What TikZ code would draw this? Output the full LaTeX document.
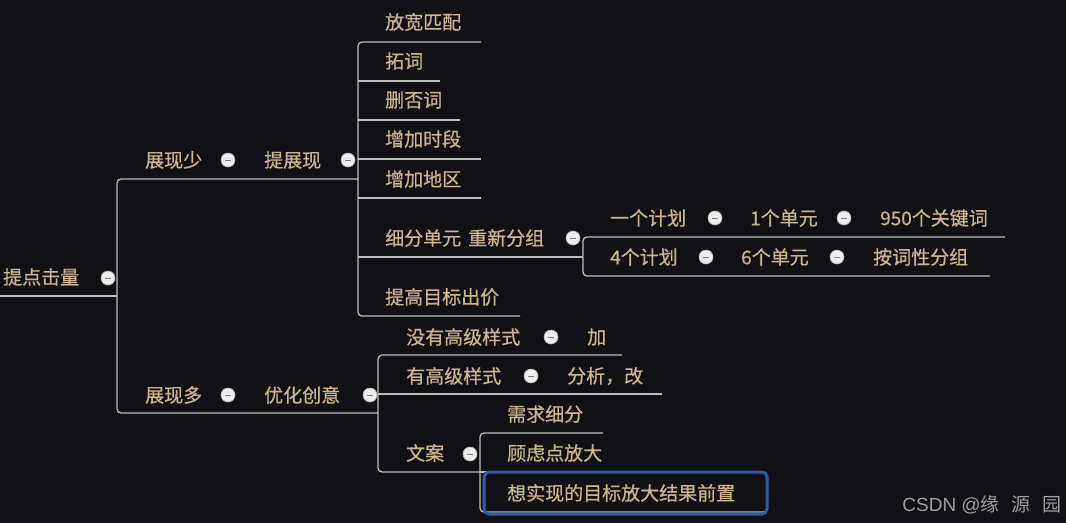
\documentclass[tikz,border=0pt]{standalone}
\usepackage{fontspec}
\newfontfamily\cjk{Noto Sans CJK SC}[FakeBold=0.6]
\newfontfamily\cjkmark{Noto Sans CJK SC}
\newfontfamily\latinmark{Liberation Sans}
\definecolor{bgdark}{HTML}{111014}
\definecolor{gold}{HTML}{CBB58E}
\definecolor{linegray}{HTML}{BDBDBD}
\definecolor{knobwhite}{HTML}{EDEDED}
\definecolor{markblue}{HTML}{2B5CAA}

\begin{document}
\begin{tikzpicture}[
    x=1pt, y=-1pt,
    topic/.style={anchor=west, inner sep=0pt, text=gold, font=\cjk\fontsize{19}{22}\selectfont},
    link/.style={draw=linegray, line width=1.3pt, rounded corners=4pt},
    knob/.style={circle, fill=knobwhite, draw=gray!60, line width=0.6pt, minimum size=14pt, inner sep=0pt,
        path picture={\draw[gray, line width=1pt] ([xshift=-3pt]path picture bounding box.center) -- ([xshift=3pt]path picture bounding box.center);}},
    highlight/.style={draw=markblue, line width=3pt, rounded corners=5pt}
]
\fill[bgdark] (0,0) rectangle (1066,523);
\useasboundingbox (0,0) rectangle (1066,523);

% root and first level
\node[topic] (root) at (3,277) {提点击量};
\node[knob] (k0) at (108,278) {};
\node[topic] (few) at (145,160) {展现少};
\node[knob] (k1) at (228,160) {};
\node[topic] (raise) at (264,160) {提展现};
\node[knob] (k2) at (348,160) {};
\node[topic] (many) at (145,395) {展现多};
\node[knob] (k3) at (228,395) {};
\node[topic] (ideas) at (264,395) {优化创意};
\node[knob] (k4) at (370,395) {};

% branches of raise
\node[topic] (match) at (385,22) {放宽匹配};
\node[topic] (words) at (385,61) {拓词};
\node[topic] (neg) at (385,100) {删否词};
\node[topic] (hours) at (385,139) {增加时段};
\node[topic] (areas) at (385,179) {增加地区};
\node[topic] (regroup) at (385,238) {细分单元\hspace{7pt}重新分组};
\node[knob] (k5) at (573,238) {};
\node[topic] (bid) at (385,297) {提高目标出价};

% regroup chain
\node[topic] (plan1) at (610,218) {一个计划};
\node[knob] (k6) at (715,218) {};
\node[topic] (unit1) at (750,218) {1个单元};
\node[knob] (k7) at (844,218) {};
\node[topic] (kw) at (880,218) {950个关键词};
\node[topic] (plan4) at (610,257) {4个计划};
\node[knob] (k8) at (706,257) {};
\node[topic] (unit6) at (741,257) {6个单元};
\node[knob] (k9) at (837,257) {};
\node[topic] (pos) at (873,257) {按词性分组};

% branches of ideas
\node[topic] (nostyle) at (406,337) {没有高级样式};
\node[knob] (k10) at (551,337) {};
\node[topic] (add) at (587,337) {加};
\node[topic] (style) at (406,376) {有高级样式};
\node[knob] (k11) at (531,376) {};
\node[topic] (fix) at (567,376) {分析，改};
\node[topic] (copy) at (406,453) {文案};
\node[knob] (k12) at (470,454) {};
\node[topic] (need) at (507,414) {需求细分};
\node[topic] (worry) at (507,453) {顾虑点放大};
\node[topic] (goal) at (507,493) {想实现的目标放大结果前置};

% junctions of the underlines
\coordinate (j0) at (117,296);
\coordinate (j1) at (358,179);
\coordinate (j2) at (583,257);
\coordinate (j3) at (378,413);
\coordinate (j4) at (480,472);

\draw[link] (0,296) -- (j0);
\draw[link] (j1) -- (117,179) -- (117,413) -- (j3);
\draw[link] (481,42) -- (j1 |- 0,42) -- (j1 |- 0,316) -- (520,316);
\draw[link] (j1 |- 0,81) -- (440,81);
\draw[link] (j1 |- 0,120) -- (460,120);
\draw[link] (j1 |- 0,159) -- (481,159);
\draw[link] (j1 |- 0,198) -- (481,198);
\draw[link] (j1 |- j2) -- (j2);
\draw[link] (1005,237) -- (j2 |- 0,237) -- (j2 |- 0,276) -- (990,276);
\draw[link] (622,355) -- (j3 |- 0,355) -- (j3 |- 0,472) -- (j4);
\draw[link] (j3 |- 0,394) -- (662,394);
\draw[link] (603,433) -- (j4 |- 0,433) -- (j4 |- 0,512) -- (765,512);
\draw[link] (j4) -- (623,472);

% selected topic
\draw[highlight] (goal.west) ++(-23,-21) rectangle (767,514);

\node[anchor=east, inner sep=0pt, text=gray!75, font=\fontsize{19}{22}\selectfont] (mark) at (1062,505)
    {\latinmark CSDN @\cjkmark 缘\hspace{12pt}源\hspace{12pt}园};
\end{tikzpicture}
\end{document}
